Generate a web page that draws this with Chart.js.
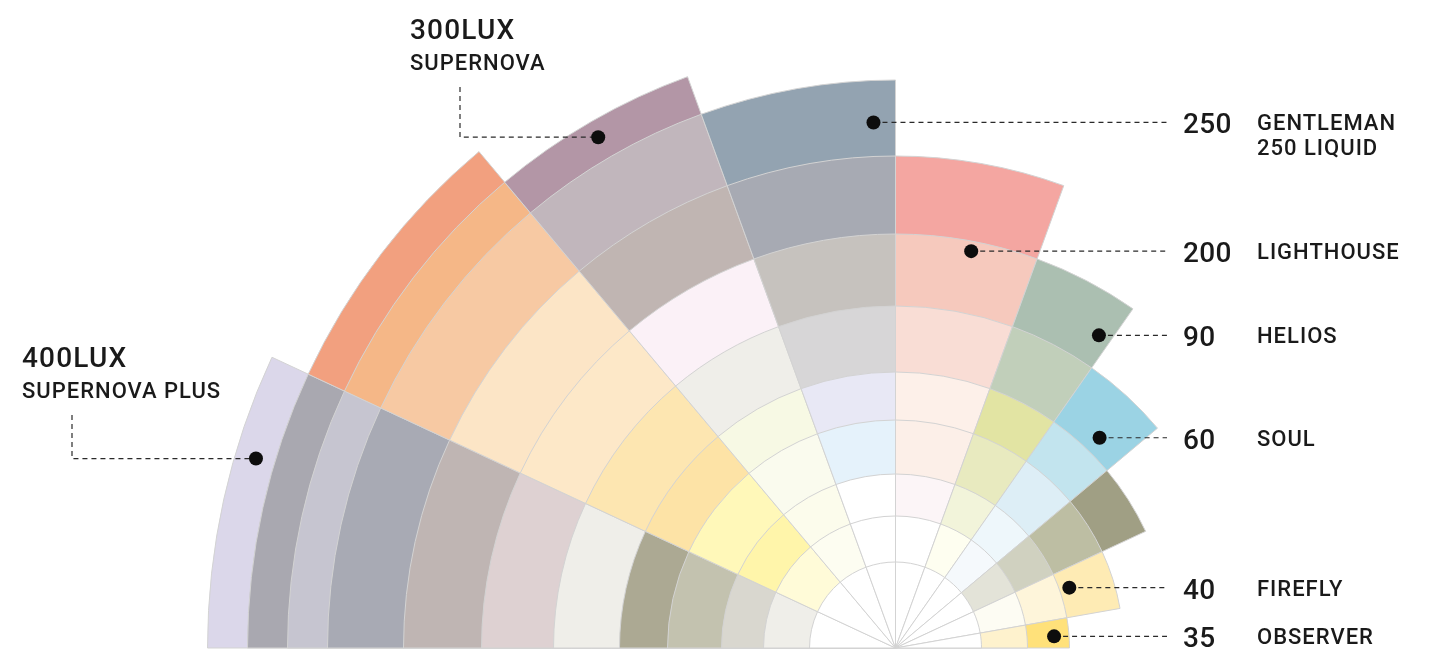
<!DOCTYPE html>
<html>
<head>
<meta charset="utf-8">
<title>Lux chart</title>
<script src="https://cdn.jsdelivr.net/npm/chart.js@4.4.0/dist/chart.umd.min.js"></script>
<style>
    html, body { margin: 0; padding: 0; background: #fff; overflow: hidden; }
    #wrap { width: 1440px; height: 652px; }
</style>
</head>
<body>
<div id="wrap"><canvas id="chartLux" width="1440" height="652"></canvas></div>
<script>
// Data

// sectors, left to right
const sectorLabels = ["400LUX", "", "300LUX", "250", "200", "90", "60", "", "40", "35"];
const sectorNames = ["SUPERNOVA PLUS", "", "SUPERNOVA", "GENTLEMAN\n250 LIQUID", "LIGHTHOUSE", "HELIOS", "SOUL", "", "FIREFLY", "OBSERVER"];
const sectorAngles = [25, 25, 20, 20, 20, 15, 15, 15, 15, 10];
// outer edge of every ring, inside out
const ringEdges = [86, 132, 174, 228, 276, 342, 414, 492, 568, 608, 648, 688];
// how many rings each sector has
const ringCounts = [12, 11, 10, 9, 8, 7, 6, 5, 4, 3];

// colours, inside out, one list per sector
const ringColors = [
    ["#ffffff", "#efeee9", "#d9d7cf", "#c3c2af", "#aca993", "#efeee9", "#ded1d2", "#bfb5b3", "#a8aab4", "#c6c5d0", "#a9a8b0", "#dbd7ea"],
    ["#ffffff", "#fffbd8", "#fff5aa", "#fff8b9", "#fde3a6", "#fde6b1", "#fde8c8", "#fce5c6", "#f7c9a3", "#f5b787", "#f2a07f"],
    ["#ffffff", "#fdfdf1", "#fcfcec", "#fafbee", "#f7f9e4", "#efeee9", "#fbf1f7", "#c0b5b2", "#c1b6bc", "#b396a6"],
    ["#ffffff", "#ffffff", "#ffffff", "#e5f2fb", "#e8e8f5", "#d7d6d7", "#c6c2be", "#a7aab3", "#93a3b1"],
    ["#ffffff", "#ffffff", "#fcf5f7", "#fcefe8", "#fdf0e9", "#f9ddd5", "#f6c9bd", "#f4a6a1"],
    ["#ffffff", "#fefef0", "#f2f4da", "#e8eabf", "#e2e4a3", "#c1cfba", "#abbfb1"],
    ["#ffffff", "#f5f9fc", "#eef7fb", "#ddeef6", "#c2e4ee", "#9bd3e4"],
    ["#ffffff", "#e3e3d8", "#d0d1c0", "#bdbea3", "#a09f84"],
    ["#ffffff", "#fdfcf3", "#fef5da", "#feebb4"],
    ["#ffffff", "#fef2cd", "#ffe17a"],
];

// where the markers sit: sector, share of its angle, radius value
const callouts = [
    { sector: 0, at: 0.66, value: 667, textX: 22, textY: 367 },
    { sector: 2, at: 0.49, value: 591, textX: 410, textY: 39 },
    { sector: 3, at: 0.88, value: 526 },
    { sector: 4, at: 0.54, value: 404 },
    { sector: 5, at: 0.87, value: 373 },
    { sector: 6, at: 0.61, value: 293 },
    { sector: 8, at: 0.39, value: 184 },
    { sector: 9, at: 0.58, value: 159 },
];

// ----- ----- ----- ----- -----

// put the centre of the half disc at the bottom, right of the middle
const placeCenter = {
    id: "placeCenter",
    afterLayout: (chart) => {
        const r = chart.scales.r;
        r.xCenter = 895.5;
        r.yCenter = 648;
        r.drawingArea = 700;
    },
};

const callout = {
    id: "callouts",
    afterDraw: (chart) => {
        const ctx = chart.ctx;
        const scale = chart.scales.r;
        const arcs = chart.getDatasetMeta(0).data;
        ctx.save();
        callouts.forEach((c) => {
            const arc = arcs[c.sector];
            const angle = arc.startAngle + c.at * (arc.endAngle - arc.startAngle);
            const dist = scale.getDistanceFromCenterForValue(c.value);
            const x = scale.xCenter + Math.cos(angle) * dist;
            const y = scale.yCenter + Math.sin(angle) * dist;

            ctx.setLineDash([5, 4]);
            ctx.lineWidth = 1.2;
            ctx.strokeStyle = "#2a2a2a";
            ctx.beginPath();
            if (c.textX !== undefined) {
                const bendX = c.textX + 50;
                ctx.moveTo(bendX, c.textY + 48);
                ctx.lineTo(bendX, y);
                ctx.lineTo(x, y);
            } else {
                ctx.moveTo(x, y);
                ctx.lineTo(1167, y);
            }
            ctx.stroke();
            ctx.setLineDash([]);

            ctx.fillStyle = "#0d0d0d";
            ctx.beginPath();
            ctx.arc(x, y, 7, 0, Math.PI * 2);
            ctx.fill();

            ctx.fillStyle = "#1a1a1a";
            ctx.textBaseline = "alphabetic";
            ctx.textAlign = "left";
            const lines = sectorNames[c.sector].split("\n");
            if (c.textX !== undefined) {
                ctx.font = "500 28px Roboto";
                ctx.letterSpacing = "1.2px";
                ctx.fillText(sectorLabels[c.sector], c.textX, c.textY);
                ctx.font = "500 22px Roboto";
                ctx.letterSpacing = "1px";
                ctx.fillText(lines[0], c.textX, c.textY + 31);
            } else {
                ctx.font = "500 28px Roboto";
                ctx.letterSpacing = "0.3px";
                ctx.fillText(sectorLabels[c.sector], 1183, y + 11);
                ctx.font = "500 22px Roboto";
                ctx.letterSpacing = "1px";
                lines.forEach((line, i) => {
                    ctx.fillText(line, 1257, y + 8 + i * 25);
                });
            }
        });
        ctx.restore();
    },
};

setupChart = () => {
    // one dataset per ring, drawn inside out on top of each other
    const datasets = ringEdges.map((edge, k) => ({
        label: "Ring " + (k + 1),
        data: sectorLabels.map((_, s) => (k < ringCounts[s] ? edge : 0)),
        backgroundColor: ringColors.map((c) => c[k] || "rgba(0,0,0,0)"),
        borderColor: "#d3d3d3",
        borderWidth: ringCounts.map((n) => (k < n ? 1 : 0)),
        angle: (ctx) => sectorAngles[ctx.dataIndex],
        clip: false,
    }));

    const config = {
        type: "polarArea",
        data: {
            labels: sectorLabels,
            datasets,
        },
        options: {
            responsive: false,
            animation: false,
            events: [],
            devicePixelRatio: 1,
            plugins: {
                legend: { display: false },
                tooltip: { enabled: false },
            },
            scales: {
                r: {
                    min: 0,
                    max: 700,
                    startAngle: -90,
                    ticks: { display: false },
                    grid: { display: false },
                    angleLines: { display: false },
                    pointLabels: { display: false },
                },
            },
        },
        plugins: [placeCenter, callout],
    };

    let ctx = document.getElementById("chartLux");

    let luxChart = new Chart(ctx, config);
};

setupChart();
</script>
</body>
</html>
